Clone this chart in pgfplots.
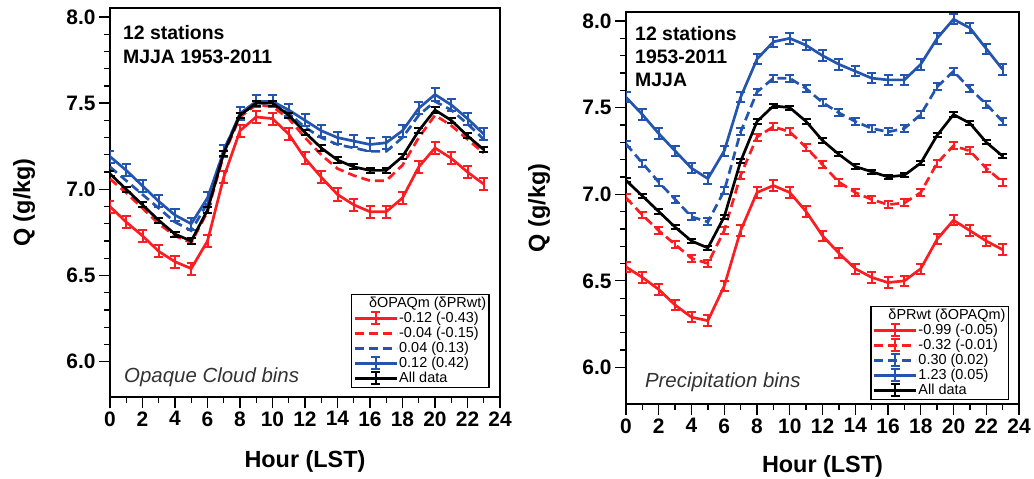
\documentclass[border=0pt]{standalone}
\usepackage{fontspec}
\setmainfont{Liberation Sans}
\usepackage{pgfplots}
\usepackage{pgfplotstable}
\pgfplotsset{compat=1.18}

\definecolor{cred}{RGB}{250,30,35}
\definecolor{cblue}{RGB}{35,85,175}

% hour, red solid, red dashed, blue dashed, blue solid, all data
\pgfplotstableread{
h rs rd bd bs all
0 6.90 7.06 7.13 7.19 7.09
1 6.81 6.98 7.05 7.11 7.00
2 6.73 6.89 6.97 7.02 6.91
3 6.64 6.80 6.89 6.93 6.82
4 6.58 6.73 6.81 6.85 6.74
5 6.54 6.69 6.76 6.80 6.70
6 6.70 6.87 6.92 6.95 6.88
7 7.07 7.20 7.23 7.22 7.21
8 7.34 7.42 7.43 7.44 7.43
9 7.42 7.49 7.50 7.51 7.50
10 7.41 7.48 7.50 7.51 7.50
11 7.32 7.41 7.44 7.46 7.43
12 7.18 7.30 7.36 7.40 7.33
13 7.07 7.20 7.30 7.34 7.24
14 6.97 7.12 7.26 7.30 7.17
15 6.91 7.08 7.24 7.28 7.13
16 6.87 7.05 7.22 7.26 7.11
17 6.87 7.05 7.22 7.27 7.11
18 6.95 7.14 7.30 7.34 7.19
19 7.13 7.30 7.43 7.47 7.34
20 7.24 7.43 7.51 7.55 7.46
21 7.18 7.37 7.46 7.49 7.40
22 7.10 7.29 7.38 7.41 7.31
23 7.03 7.21 7.29 7.32 7.23
}\opaquetab

\pgfplotstableread{
h rs rd bd bs all
0 6.58 6.98 7.29 7.56 7.08
1 6.52 6.88 7.18 7.46 6.99
2 6.45 6.79 7.07 7.35 6.90
3 6.36 6.71 6.97 7.25 6.81
4 6.29 6.63 6.87 7.15 6.73
5 6.27 6.60 6.84 7.09 6.69
6 6.47 6.79 7.02 7.25 6.87
7 6.79 7.11 7.36 7.56 7.19
8 7.01 7.33 7.59 7.78 7.42
9 7.05 7.39 7.67 7.88 7.51
10 7.01 7.36 7.67 7.90 7.50
11 6.90 7.27 7.61 7.86 7.42
12 6.76 7.17 7.53 7.80 7.31
13 6.66 7.07 7.47 7.75 7.23
14 6.57 7.01 7.42 7.71 7.16
15 6.52 6.97 7.38 7.67 7.13
16 6.49 6.94 7.36 7.66 7.10
17 6.50 6.95 7.38 7.66 7.11
18 6.57 7.01 7.46 7.75 7.18
19 6.74 7.18 7.62 7.90 7.34
20 6.85 7.28 7.71 8.01 7.46
21 6.79 7.25 7.61 7.96 7.41
22 6.73 7.15 7.52 7.84 7.30
23 6.68 7.07 7.42 7.72 7.22
}\preciptab

\pgfplotsset{
  qpanel/.style={
    scale only axis,
    xmin=0, xmax=24, ymin=5.795, ymax=8.052,
    xtick={0,2,...,24}, minor x tick num=1,
    ytick={6,6.5,7,7.5,8}, minor y tick num=4,
    tick pos=left, tick align=outside,
    major tick length=11bp, minor tick length=6bp,
    tick style={black, line width=1.3bp},
    axis line style={line width=1.5bp},
    /pgf/number format/assume math mode=true,
    ticklabel style={font=\bfseries\fontsize{21}{21}\selectfont},
    yticklabel style={/pgf/number format/fixed, /pgf/number format/fixed zerofill, /pgf/number format/precision=1},
    xlabel={Hour (LST)}, ylabel={Q (g/kg)},
    label style={font=\bfseries\fontsize{23.5}{23.5}\selectfont},
    ylabel style={at={(axis description cs:-0.205,0.5)}, anchor=base},
    legend style={font=\fontsize{14.5}{16}\selectfont, draw=black, line width=1.5bp,
      inner sep=2bp, row sep=1bp, anchor=south east,
      nodes={inner sep=1bp}},
    legend cell align=left,
  },
  ln/.style={line width=2.7bp},
  dsh/.style={dash pattern=on 9bp off 5bp},
  err/.style={error bars/y dir=both, error bars/y fixed=#1,
    error bars/error mark=-,
    error bars/error bar style={line width=2bp, solid},
    error bars/error mark options={rotate=90, line width=2bp, mark size=4.5bp, solid}},
  legI/.style={legend image code/.code={
    \draw[##1] (0bp,0bp) -- (42bp,0bp);
    \draw[##1, solid, line width=2bp] (21bp,-6bp) -- (21bp,6bp)
      (16.5bp,-6bp) -- (25.5bp,-6bp) (16.5bp,6bp) -- (25.5bp,6bp);}},
  legL/.style={legend image code/.code={\draw[##1] (0bp,0bp) -- (42bp,0bp);}},
}

\begin{document}
\begin{tikzpicture}
\useasboundingbox (0,0) rectangle (1034bp,479bp);

\begin{axis}[qpanel, at={(110bp,82bp)}, anchor=south west,
    width=390bp, height=389bp,
    xlabel style={at={(axis description cs:0.5,-0.18)}, anchor=base},
    legend style={at={(axis description cs:0.974,0.023)}}]
  \addlegendimage{empty legend}
  \addlegendentry{\hspace*{-30bp}δOPAQm (δPRwt)}
  \addplot[ln, cred, legI, err=0.035] table[x=h, y=rs] {\opaquetab};
  \addlegendentry{-0.12 (-0.43)}
  \addplot[ln, cred, dsh, legL] table[x=h, y=rd] {\opaquetab};
  \addlegendentry{-0.04 (-0.15)}
  \addplot[ln, cblue, dsh, legL] table[x=h, y=bd] {\opaquetab};
  \addlegendentry{0.04 (0.13)}
  \addplot[ln, cblue, legI, err=0.035] table[x=h, y=bs] {\opaquetab};
  \addlegendentry{0.12 (0.42)}
  \addplot[ln, black, legI, err=0.015] table[x=h, y=all] {\opaquetab};
  \addlegendentry{All data}
  \node[anchor=north west, align=left, inner sep=0pt,
    font=\bfseries\fontsize{19.5}{24}\selectfont]
    at (rel axis cs:0.033,0.956) {12 stations\\MJJA 1953-2011};
  \node[anchor=base west, inner sep=0pt, text=black!80,
    font=\itshape\fontsize{20.5}{20}\selectfont]
    at (rel axis cs:0.036,0.036) {Opaque Cloud bins};
\end{axis}

\begin{axis}[qpanel, at={(626bp,75bp)}, anchor=south west,
    width=393bp, height=392bp, ymin=5.789,
    xlabel style={at={(axis description cs:0.5,-0.176)}, anchor=base},
    ylabel style={at={(axis description cs:-0.206,0.5)}},
    legend style={at={(axis description cs:0.975,0.01)}}]
  \addlegendimage{empty legend}
  \addlegendentry{\hspace*{-30bp}δPRwt (δOPAQm)}
  \addplot[ln, cred, legI, err=0.03] table[x=h, y=rs] {\preciptab};
  \addlegendentry{-0.99 (-0.05)}
  \addplot[ln, cred, dsh, legI, err=0.02] table[x=h, y=rd] {\preciptab};
  \addlegendentry{-0.32 (-0.01)}
  \addplot[ln, cblue, dsh, legI, err=0.02] table[x=h, y=bd] {\preciptab};
  \addlegendentry{0.30 (0.02)}
  \addplot[ln, cblue, legI, err=0.03] table[x=h, y=bs] {\preciptab};
  \addlegendentry{1.23 (0.05)}
  \addplot[ln, black, legI, err=0.012] table[x=h, y=all] {\preciptab};
  \addlegendentry{All data}
  \node[anchor=north west, align=left, inner sep=0pt,
    font=\bfseries\fontsize{19.5}{23}\selectfont]
    at (rel axis cs:0.023,0.964) {12 stations\\1953-2011\\MJJA};
  \node[anchor=base west, inner sep=0pt, text=black!80,
    font=\itshape\fontsize{20.5}{20}\selectfont]
    at (rel axis cs:0.048,0.041) {Precipitation bins};
\end{axis}
\end{tikzpicture}
\end{document}
